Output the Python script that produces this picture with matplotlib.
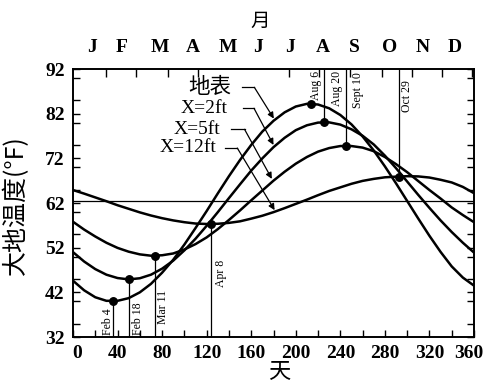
import matplotlib
matplotlib.use("Agg")
import matplotlib.pyplot as plt
from matplotlib.ticker import MultipleLocator, FixedLocator
from matplotlib.transforms import ScaledTranslation

plt.rcParams['font.family'] = ['Liberation Serif', 'Noto Sans CJK SC']
CJK = ['Noto Sans CJK SC', 'Liberation Serif']

# ---------------- data ----------------
days = list(range(0, 361, 10))
surface = [44.6, 42.45, 40.9, 40.1, 40.1, 40.7, 42.0, 43.9, 46.4, 49.3, 52.7, 56.4, 60.2,
           64.15, 68.0, 71.65, 75.0, 78.0, 80.4, 82.3, 83.6, 84.2, 84.05, 83.2, 81.7, 79.6,
           76.9, 73.75, 70.2, 66.4, 62.45, 58.5, 54.65, 51.05, 47.8, 45.3, 43.5]
depth_2ft = [51.0, 48.9, 47.2, 45.95, 45.2, 44.9, 45.15, 45.95, 47.3, 49.1, 51.4, 54.0, 56.9,
             59.95, 63.1, 66.2, 69.25, 72.0, 74.5, 76.6, 78.3, 79.4, 80.0, 80.05, 79.55, 78.5,
             77.05, 75.1, 72.6, 69.8, 66.8, 63.8, 60.9, 58.1, 55.5, 53.1, 50.9]
depth_5ft = [57.8, 56.05, 54.5, 53.1, 51.95, 51.1, 50.5, 50.2, 50.3, 50.7, 51.6, 52.8, 54.3,
             56.15, 58.2, 60.35, 62.6, 64.8, 67.0, 69.0, 70.8, 72.3, 73.5, 74.3, 74.75, 74.75,
             74.4, 73.6, 72.3, 70.7, 68.9, 66.9, 64.9, 63.0, 61.0, 59.3, 57.7]
depth_12ft = [64.9, 64.1, 63.25, 62.4, 61.5, 60.7, 59.9, 59.2, 58.6, 58.1, 57.7, 57.4, 57.3,
              57.35, 57.55, 57.9, 58.5, 59.15, 59.95, 60.85, 61.8, 62.75, 63.75, 64.7, 65.5,
              66.3, 66.95, 67.4, 67.75, 67.9, 68.0, 67.95, 67.7, 67.2, 66.6, 65.6, 64.2]
series_labels = ['地表', 'X=2ft', 'X=5ft', 'X=12ft']
mean_temp = 62.4

marker_days = [36, 50.5, 74, 123.5, 213.5, 225.7, 245.2, 293]
marker_temps = [40.0, 44.9, 50.2, 57.3, 84.2, 80.1, 74.85, 67.9]
marker_labels = ['Feb 4', 'Feb 18', 'Mar 11', 'Apr 8', 'Aug 6', 'Aug 20', 'Sept 10', 'Oct 29']
marker_kind = ['min', 'min', 'min', 'min', 'max', 'max', 'max', 'max']

month_labels = ['J', 'F', 'M', 'A', 'M', 'J', 'J', 'A', 'S', 'O', 'N', 'D']
month_label_pos = [17, 44, 78, 107.5, 139, 166, 194.5, 224, 253, 284.5, 314, 343]
top_tick_pos = [30, 57, 85, 112, 139, 166, 194, 221, 249, 277, 304, 331, 358]

# ---------------- layout / style ----------------
W, H = 487, 385
fig = plt.figure(figsize=(W / 100, H / 100), dpi=100)
ax = fig.add_axes([73 / W, 48 / H, 401 / W, 268 / H])
ax.set_xlim(0, 360)
ax.set_ylim(32, 92)

for vals in [surface, depth_2ft, depth_5ft, depth_12ft]:
    ax.plot(days, vals, color='black', lw=1.8, solid_capstyle='butt', zorder=3)
ax.axhline(mean_temp, color='black', lw=0.9, zorder=2)

# marker lines, markers and labels
# (x offset in days, y anchor, vertical alignment, draw line)
label_layout = [(-5, 32.4, 'bottom', True), (8, 32.4, 'bottom', True),
                (7, 35.0, 'bottom', True), (9, 43.3, 'bottom', True),
                (4.5, 91.6, 'top', False), (11, 91.6, 'top', True),
                (10.5, 91.2, 'top', True), (6.5, 89.6, 'top', True)]
y0, y1 = ax.get_ylim()
for d, t, lab, kind, (dx, ty, va, line) in zip(marker_days, marker_temps, marker_labels,
                                                marker_kind, label_layout):
    if line:
        if kind == 'min':
            ax.vlines(d, y0, t, color='black', lw=0.9, zorder=2)
        else:
            ax.vlines(d, t, y1, color='black', lw=0.9, zorder=2)
    ax.text(d + dx, ty, lab, rotation=90, ha='center', va=va, fontsize=8.5)
ax.plot(marker_days, marker_temps, 'o', color='black', ms=5.4, zorder=4)

# leader annotations: text anchor (right end), horizontal segment start/end, arrow tip
ann_layout = [
    ((142, 88.0), (152, 162.8, 87.9), (180.3, 80.9), 15.5, CJK),
    ((139, 83.2), (152.5, 162.5, 83.2), (180.0, 75.0), 14, None),
    ((132.4, 78.5), (141.5, 154.0, 78.5), (178.5, 67.4), 14, None),
    ((128.7, 74.4), (136.7, 147.5, 74.3), (181.0, 60.4), 14, None),
]
for lab, ((tx, ty), (hx0, hx1, hy), tip, fs, fam) in zip(series_labels, ann_layout):
    kw = {'family': fam} if fam else {}
    ax.text(tx, ty, lab, ha='right', va='center', fontsize=fs, **kw)
    ax.plot([hx0, hx1], [hy, hy], color='black', lw=0.9)
    ax.annotate('', xy=tip, xytext=(hx1, hy),
                arrowprops=dict(arrowstyle='-|>', color='black', lw=0.9,
                                mutation_scale=9, shrinkA=0, shrinkB=0))

# axes ticks
ax.xaxis.set_major_locator(FixedLocator(list(range(0, 361, 40))))
ax.xaxis.set_minor_locator(MultipleLocator(20))
ax.yaxis.set_major_locator(FixedLocator(list(range(32, 93, 10))))
ax.yaxis.set_minor_locator(MultipleLocator(5))
ax.tick_params(axis='both', which='both', direction='in', top=False, right=True,
               width=1.0, labelsize=14, pad=6)
ax.tick_params(axis='both', which='major', length=5)
ax.tick_params(axis='both', which='minor', length=5)
for s in ax.spines.values():
    s.set_linewidth(1.2)
for lbl in ax.get_xticklabels() + ax.get_yticklabels():
    lbl.set_fontweight('bold')
xl = ax.get_xticklabels()
xl[-1].set_transform(xl[-1].get_transform() + ScaledTranslation(-4 / 72, 0, fig.dpi_scale_trans))
xl[0].set_transform(xl[0].get_transform() + ScaledTranslation(3 / 72, 0, fig.dpi_scale_trans))

ax2 = ax.twiny()
ax2.set_xlim(0, 360)
ax2.set_xticks(month_label_pos)
ax2.set_xticklabels(month_labels, fontweight='bold')
ax2.set_xticks(top_tick_pos, minor=True)
ax2.tick_params(axis='x', which='major', length=0, labelsize=14, pad=9)
ax2.tick_params(axis='x', which='minor', direction='in', length=6, width=1.0)
for s in ax2.spines.values():
    s.set_linewidth(1.2)

fig.text(16 / W, 1 - 205 / H, '大地温度(°F)', rotation=90, ha='center', va='center',
         fontsize=18, family=CJK)
fig.text(260 / W, 1 - 21 / H, '月', ha='center', va='center', fontsize=14, family=CJK)
fig.text(279 / W, 1 - 372 / H, '天', ha='center', va='center', fontsize=16, family=CJK)

fig.savefig('out.png', dpi=100)
